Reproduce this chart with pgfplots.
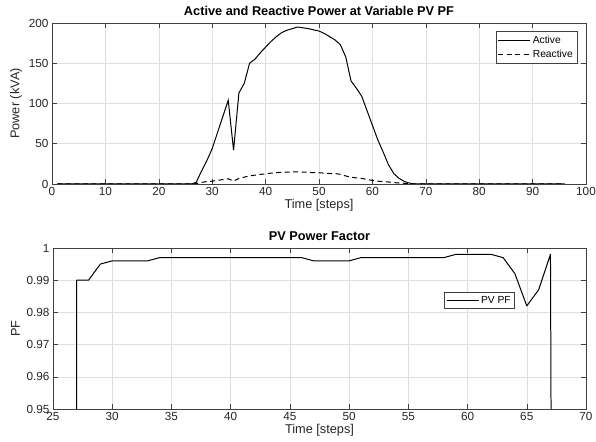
\documentclass[border=0pt]{standalone}
\usepackage{fontspec}
\setmainfont{Liberation Sans}
\usepackage{pgfplots}
\pgfplotsset{compat=1.18}
\definecolor{axgray}{HTML}{404040}
\definecolor{gridgray}{HTML}{DEDEDE}
\pgfplotsset{
  mystyle/.style={
    scale only axis,
    /pgf/number format/assume math mode=true,
    axis line style={axgray, line width=0.5pt},
    tick style={axgray, line width=0.5pt},
    major tick length=5bp,
    tick align=inside,
    xtick pos=both, ytick pos=both,
    grid=major,
    major grid style={gridgray, line width=0.5pt},
    ticklabel style={font=\fontsize{11.8}{13}\selectfont, text=black!85},
    label style={font=\fontsize{12.8}{14}\selectfont, text=black!85},
    title style={font=\bfseries\fontsize{12.8}{14}\selectfont, yshift=-2.5bp},
    legend style={font=\fontsize{10.3}{12}\selectfont, draw=axgray, line width=0.5pt, inner sep=2pt},
    legend cell align=left,
    legend image code/.code={\draw[#1] (0bp,0bp) -- (32bp,0bp);},
  }
}
\begin{document}
\begin{tikzpicture}
\useasboundingbox (0,0) rectangle (596bp,442bp);
\begin{axis}[mystyle,
  at={(52bp,258bp)}, anchor=south west,
  width=534bp, height=161bp,
  xmin=0, xmax=100, ymin=0, ymax=200,
  xtick={0,10,...,100}, ytick={0,50,...,200},
  title={Active and Reactive Power at Variable PV PF},
  xlabel={Time [steps]}, ylabel={Power (kVA)},
  ylabel style={yshift=0bp},
  xlabel style={yshift=3bp},
  legend style={at={(1,1)}, anchor=north east, xshift=-9bp, yshift=-8.5bp, row sep=1.5pt},
]
\addplot[black, line width=1pt] coordinates {
(1,0) (26,0) (27,2) (28,16) (29,29) (30,44) (31,64) (32,84) (33,104) (34,42)
(35,113) (36,125) (37,150) (38,155) (39,163) (40,170) (41,177) (42,183) (43,188)
(44,191) (45,193) (46,195) (47,194) (48,193) (49,191.5) (50,190) (51,187) (52,183)
(53,179) (54,173) (55,158) (56,128) (57,119) (58,109) (59,91) (60,73) (61,55)
(62,40) (63,24) (64,13) (65,7) (66,3) (67,1) (68,0) (96,0)
};
\addlegendentry{Active}
\addplot[black, line width=1pt, dash pattern=on 5bp off 3.5bp] coordinates {
(1,0) (26,0) (27,0.5) (28,2) (29,3) (30,3.5) (31,4.5) (32,5.5) (33,6.5) (34,3.5)
(35,7) (36,8.5) (37,10) (38,11) (39,12) (40,12.5) (41,13.5) (42,14) (43,14.5)
(44,14.8) (45,15) (46,15.2) (47,14.8) (48,14.5) (49,14) (50,14) (51,13.5) (52,13)
(53,13) (54,12) (55,10) (56,8.5) (57,7.5) (58,7) (59,5.5) (60,4.5) (61,3.5)
(62,2.8) (63,2.5) (64,1.8) (65,1.2) (66,0.7) (67,0.3) (68,0) (96,0)
};
\addlegendentry{Reactive}
\end{axis}
\begin{axis}[mystyle,
  at={(53bp,33bp)}, anchor=south west,
  width=533bp, height=161bp,
  xmin=25, xmax=70, ymin=0.95, ymax=1,
  xtick={25,30,...,70}, ytick={0.95,0.96,0.97,0.98,0.99,1},
  yticklabels={0.95,0.96,0.97,0.98,0.99,1},
  title={PV Power Factor},
  xlabel={Time [steps]}, ylabel={PF},
  ylabel style={yshift=0bp},
  xlabel style={yshift=3bp},
  legend style={at={(0.8,0.674)}, anchor=center},
]
\addplot[black, line width=1pt, line join=round] coordinates {
(25,0) (27,0) (27,0.990) (28,0.990) (29,0.995) (30,0.996) (31,0.996) (32,0.996)
(33,0.996) (34,0.997) (35,0.997) (36,0.997) (37,0.997) (38,0.997) (39,0.997)
(40,0.997) (41,0.997) (42,0.997) (43,0.997) (44,0.997) (45,0.997) (46,0.997)
(47,0.996) (48,0.996) (49,0.996) (50,0.996) (51,0.997) (52,0.997) (53,0.997)
(54,0.997) (55,0.997) (56,0.997) (57,0.997) (58,0.997) (59,0.998) (60,0.998)
(61,0.998) (62,0.998) (63,0.997) (64,0.992) (65,0.982) (66,0.987) (67,0.998)
(68,0) (70,0)
};
\addlegendentry{PV PF}
\end{axis}
\end{tikzpicture}
\end{document}
